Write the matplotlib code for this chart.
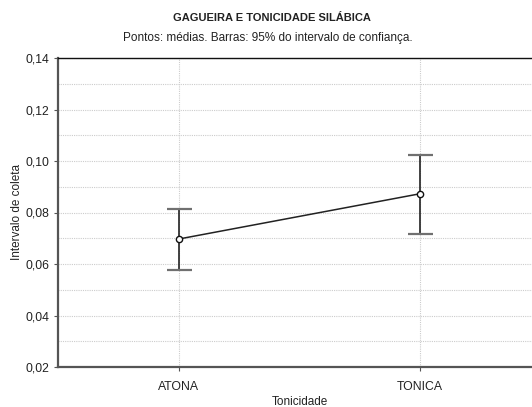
import matplotlib
matplotlib.use("Agg")
import matplotlib.pyplot as plt
from matplotlib.ticker import MultipleLocator, FuncFormatter

plt.rcParams['font.family'] = ['Liberation Sans', 'DejaVu Sans']

categories = ["ATONA", "TONICA"]
means = [0.0697, 0.0873]
upper = [0.0812, 0.1022]
lower = [0.0577, 0.0715]

fig = plt.figure(figsize=(5.32, 4.07), dpi=100)
W, H = 532, 407
left, right, top, bottom = 58, 541, 58, 367
ax = fig.add_axes([left / W, 1 - bottom / H, (right - left) / W, (bottom - top) / H])

x = list(range(len(categories)))
yerr = [[m - l for m, l in zip(means, lower)], [u - m for m, u in zip(means, upper)]]
eb = ax.errorbar(x, means, yerr=yerr, fmt='none', ecolor='#222222', elinewidth=1.2,
                 capsize=9, capthick=1.6, zorder=3)
for cap in eb[1]:
    cap.set_color('#707070')
    cap.set_markeredgecolor('#707070')
ax.plot(x, means, color='#222222', lw=1.1, marker='o', markersize=4.5,
        markerfacecolor='white', markeredgecolor='#111111', markeredgewidth=1.0, zorder=4)

ax.set_xlim(-0.5, 1.5)
ax.set_ylim(0.02, 0.14)
ax.set_xticks(x)
ax.set_xticklabels(categories)
ax.yaxis.set_major_locator(MultipleLocator(0.02))
ax.yaxis.set_minor_locator(MultipleLocator(0.01))
ax.yaxis.set_major_formatter(FuncFormatter(lambda v, p: f"{v:.2f}".replace('.', ',')))

ax.grid(True, which='both', axis='y', color='#cccccc', linestyle=(0, (1, 1)), lw=0.8)
ax.grid(True, which='major', axis='x', color='#cccccc', linestyle=(0, (1, 1)), lw=0.8)
ax.set_axisbelow(True)

ax.tick_params(axis='both', which='major', labelsize=8.8, length=3, direction='out',
               color='#555555', labelcolor='#222222')
ax.tick_params(axis='y', which='minor', length=0)
ax.tick_params(axis='x', pad=7)

for s in ['left', 'bottom']:
    ax.spines[s].set_color('#555555')
    ax.spines[s].set_linewidth(1.6)
ax.spines['top'].set_color('#111111')
ax.spines['top'].set_linewidth(1.0)

fig.text(17 / W, 1 - 212 / H, "Intervalo de coleta", ha='center', va='center',
         rotation=90, fontsize=8.5, color='#222222')
fig.text(300 / W, 1 - 402 / H, "Tonicidade", ha='center', va='center',
         fontsize=8.5, color='#222222')

fig.text(272 / W, 1 - 18 / H, "GAGUEIRA E TONICIDADE SILÁBICA", ha='center', va='center',
         fontsize=8, fontweight='bold', color='#222222')
fig.text(268 / W, 1 - 38 / H, "Pontos: médias. Barras: 95% do intervalo de confiança.",
         ha='center', va='center', fontsize=8.5, color='#222222')

fig.savefig("out.png", dpi=100)
